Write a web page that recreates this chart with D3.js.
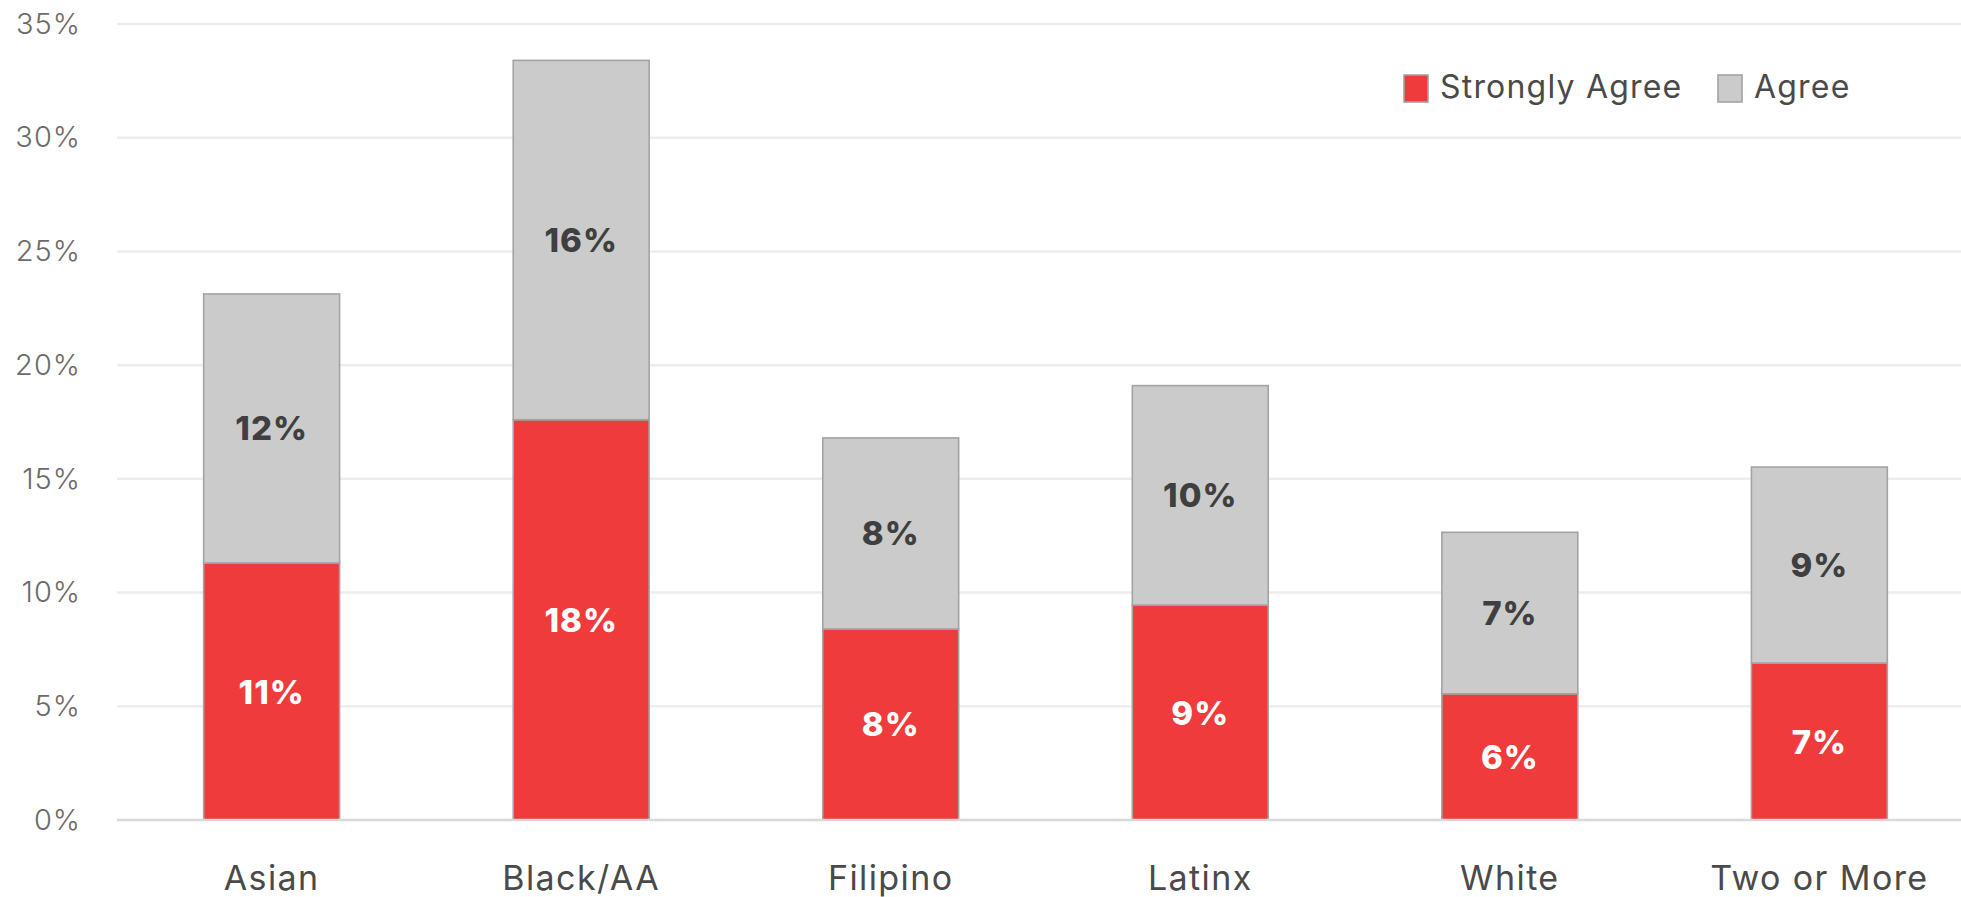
<!DOCTYPE html>
<html>
<head>
<meta charset="utf-8">
<script src="https://cdn.jsdelivr.net/npm/d3@7"></script>
<style>
  html, body { margin: 0; padding: 0; background: #ffffff; }
  svg { display: block; font-family: "Inter", "Lato", sans-serif; }
</style>
</head>
<body>
<svg id="chart" width="1961" height="897"></svg>
<script>
const categories = ["Asian", "Black/AA", "Filipino", "Latinx", "White", "Two or More"];
const stronglyAgree = [11.3, 17.6, 8.4, 9.45, 5.55, 6.9];
const agree = [11.83, 15.8, 8.4, 9.65, 7.1, 8.62];
const seriesNames = ["Strongly Agree", "Agree"];
const seriesColors = ["#ef3b3b", "#cbcbcb"];
const yTicks = [0, 5, 10, 15, 20, 25, 30, 35];

const svg = d3.select("#chart");
const W = 1961, H = 897;

const y = d3.scaleLinear().domain([0, 35]).range([820, 24]);
const x = d3.scaleBand().domain(categories).range([117, 1974])
  .paddingInner(0.561).paddingOuter(0.28);

// gridlines
const grid = svg.append("g");
grid.selectAll("line").data(yTicks.filter(t => t > 0)).join("line")
  .attr("x1", 117).attr("x2", W)
  .attr("y1", d => y(d)).attr("y2", d => y(d))
  .attr("stroke", "#ededed").attr("stroke-width", 2.5);

// y axis labels
const yAxis = d3.axisLeft(y).tickValues(yTicks).tickFormat(d => d + "%").tickSize(0).tickPadding(0);
const yg = svg.append("g").attr("transform", "translate(81,0)").call(yAxis);
yg.select(".domain").remove();
yg.selectAll("text").attr("font-size", 29).attr("font-weight", 300)
  .attr("letter-spacing", 1)
  .attr("fill", "#6b6b6b").attr("font-family", "Inter, Lato, sans-serif");

// stacked data
const rows = categories.map((c, i) => ({ cat: c, "Strongly Agree": stronglyAgree[i], "Agree": agree[i] }));
const stack = d3.stack().keys(seriesNames)(rows);

const layers = svg.append("g").selectAll("g").data(stack).join("g")
  .attr("fill", (d, i) => seriesColors[i]);

layers.selectAll("rect").data(d => d).join("rect")
  .attr("x", d => x(d.data.cat))
  .attr("width", x.bandwidth())
  .attr("y", d => y(d[1]))
  .attr("height", d => y(d[0]) - y(d[1]))
  .attr("stroke", "#a3a3a3").attr("stroke-width", 1.6);

// baseline
svg.append("line").attr("x1", 117).attr("x2", W).attr("y1", y(0)).attr("y2", y(0))
  .attr("stroke", "#d9d9d9").attr("stroke-width", 2.5);

// value labels
stack.forEach((layer, li) => {
  svg.append("g").selectAll("text").data(layer).join("text")
    .attr("x", d => x(d.data.cat) + x.bandwidth() / 2)
    .attr("y", d => y((d[0] + d[1]) / 2))
    .attr("text-anchor", "middle").attr("dominant-baseline", "central")
    .attr("font-size", 33).attr("font-weight", 800).attr("letter-spacing", 1)
    .attr("fill", li === 0 ? "#ffffff" : "#3f3f3f")
    .text(d => Math.round(d[1] - d[0]) + "%");
});

// x axis labels
const xAxis = d3.axisBottom(x).tickSize(0).tickPadding(0);
const xg = svg.append("g").attr("transform", "translate(0,890)").call(xAxis);
xg.select(".domain").remove();
xg.selectAll("text").attr("font-size", 34).attr("font-weight", 400)
  .attr("letter-spacing", 1.4)
  .attr("fill", "#4a4a4a").attr("font-family", "Inter, Lato, sans-serif").attr("dy", 0);

// legend
const legendX = [1404, 1718];
const lg = svg.append("g");
seriesNames.forEach((name, i) => {
  lg.append("rect").attr("x", legendX[i]).attr("y", 75).attr("width", 24).attr("height", 27)
    .attr("fill", seriesColors[i]).attr("stroke", "#a3a3a3").attr("stroke-width", 1.6);
  lg.append("text").attr("x", legendX[i] + 36).attr("y", 98)
    .attr("font-size", 32).attr("letter-spacing", 1.2)
    .attr("fill", "#4a4a4a").text(name);
});
</script>
</body>
</html>
